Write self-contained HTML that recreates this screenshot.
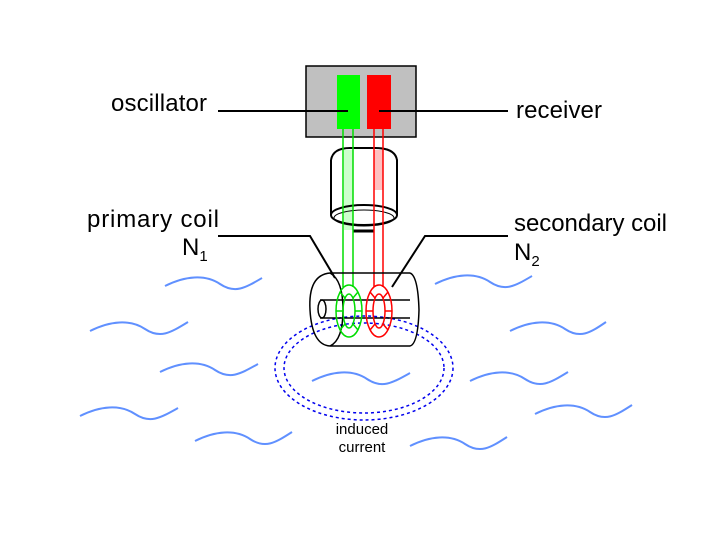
<!DOCTYPE html>
<html><head><meta charset="utf-8"><style>
html,body{margin:0;padding:0;background:#fff;}
svg{display:block;}
text{font-family:"Liberation Sans",sans-serif;fill:#000;}
</style></head><body>
<svg width="720" height="540" viewBox="0 0 720 540" xmlns="http://www.w3.org/2000/svg">
<rect width="720" height="540" fill="#fff"/>
<!-- waves -->
<g fill="none" stroke="#6090ff" stroke-width="2">
<path d="M165,286 C185,276 205,274 220,284 S245,288 262,278"/>
<path d="M435,284 C455,274 475,272 490,282 S515,286 532,276"/>
<path d="M90,331 C110,321 130,319 145,329 S170,333 188,322"/>
<path d="M510,331 C530,321 550,319 565,329 S590,333 606,322"/>
<path d="M160,372 C180,362 200,360 215,370 S240,374 258,364"/>
<path d="M312,381 C332,371 352,369 367,379 S392,383 410,373"/>
<path d="M470,381 C490,371 510,369 525,379 S550,383 568,372"/>
<path d="M80,416 C100,406 120,404 135,414 S160,418 178,408"/>
<path d="M535,414 C555,404 575,402 590,412 S615,416 632,405"/>
<path d="M195,441 C215,431 235,429 250,439 S275,443 292,432"/>
<path d="M410,446 C430,436 450,434 465,444 S490,448 507,437"/>
</g>
<!-- induced current loops -->
<g fill="none" stroke="#0000ee" stroke-width="1.5" stroke-dasharray="3,3">
<ellipse cx="364" cy="368" rx="89" ry="52"/>
<ellipse cx="364" cy="368" rx="80" ry="45"/>
</g>
<!-- box -->
<rect x="306" y="66" width="110" height="71" fill="#c0c0c0" stroke="#000" stroke-width="1.5"/>
<rect x="337" y="75" width="23" height="54" fill="#00ff00"/>
<rect x="367" y="75" width="24" height="54" fill="#ff0000"/>
<!-- upper cylinder -->
<path d="M331,160 Q333,148 350,148 L375,148 Q395,148 397,160 L397,215" fill="none" stroke="#000" stroke-width="2"/>
<line x1="331" y1="160" x2="331" y2="215" stroke="#000" stroke-width="2"/>
<rect x="344" y="150" width="9" height="80" fill="#ccffcc"/>
<rect x="374" y="150" width="9" height="40" fill="#ffc0c0"/>
<ellipse cx="364" cy="215" rx="33" ry="10" fill="none" stroke="#000" stroke-width="2"/>
<ellipse cx="364" cy="218" rx="30" ry="8" fill="none" stroke="#000" stroke-width="1"/>
<line x1="353" y1="231" x2="374" y2="231" stroke="#000" stroke-width="3"/>
<!-- tubes -->
<g stroke-width="1.5">
<line x1="343" y1="129" x2="343" y2="287" stroke="#00dd00"/>
<line x1="353" y1="129" x2="353" y2="287" stroke="#00dd00"/>
<line x1="374" y1="129" x2="374" y2="287" stroke="#ff0000"/>
<line x1="383" y1="129" x2="383" y2="287" stroke="#ff0000"/>
</g>
<!-- leader lines -->
<g stroke="#000" stroke-width="2" fill="none">
<line x1="218" y1="111" x2="348" y2="111"/>
<line x1="379" y1="111" x2="508" y2="111"/>
<polyline points="218,236 310,236 335,278"/>
<polyline points="508,236 425,236 392,287"/>
</g>
<!-- lower cylinder -->
<g fill="none" stroke="#000" stroke-width="1.5">
<line x1="330" y1="273" x2="410" y2="273"/>
<line x1="330" y1="346" x2="410" y2="346"/>
<path d="M330,273 Q308,275 310,310 Q312,345 330,346"/>
<path d="M330,273 Q343,280 343,310 Q343,340 330,346"/>
<path d="M410,273 Q418,276 419,310 Q418,344 410,346"/>
<line x1="320" y1="300" x2="410" y2="300"/>
<line x1="320" y1="318" x2="410" y2="318"/>
<ellipse cx="322" cy="309" rx="4" ry="9"/>
</g>
<!-- coils -->
<g fill="none" stroke="#00dd00" stroke-width="1.5">
<ellipse cx="349" cy="311" rx="13" ry="26"/>
<ellipse cx="349" cy="311" rx="6" ry="17"/>
<path d="M336,311 H343 M355,311 H362 M340,292 L345,298 M358,292 L353,298 M340,330 L345,324 M358,330 L353,324"/>
</g>
<g fill="none" stroke="#ff0000" stroke-width="1.5">
<ellipse cx="379" cy="311" rx="13" ry="26"/>
<ellipse cx="379" cy="311" rx="6" ry="17"/>
<path d="M366,311 H373 M385,311 H392 M370,292 L375,298 M388,292 L383,298 M370,330 L375,324 M388,330 L383,324"/>
</g>
<!-- labels -->
<text x="207" y="111" font-size="24" text-anchor="end" textLength="96">oscillator</text>
<text x="516" y="118" font-size="24" textLength="86">receiver</text>
<text x="219" y="227" font-size="24" text-anchor="end" textLength="132">primary coil</text>
<text x="182" y="255" font-size="24">N<tspan font-size="15" dy="6">1</tspan></text>
<text x="514" y="231" font-size="24" textLength="153">secondary coil</text>
<text x="514" y="260" font-size="24">N<tspan font-size="15" dy="6">2</tspan></text>
<text x="362" y="434" font-size="15" text-anchor="middle" fill="#222">induced</text>
<text x="362" y="452" font-size="15" text-anchor="middle" fill="#222">current</text>
</svg>
</body></html>
